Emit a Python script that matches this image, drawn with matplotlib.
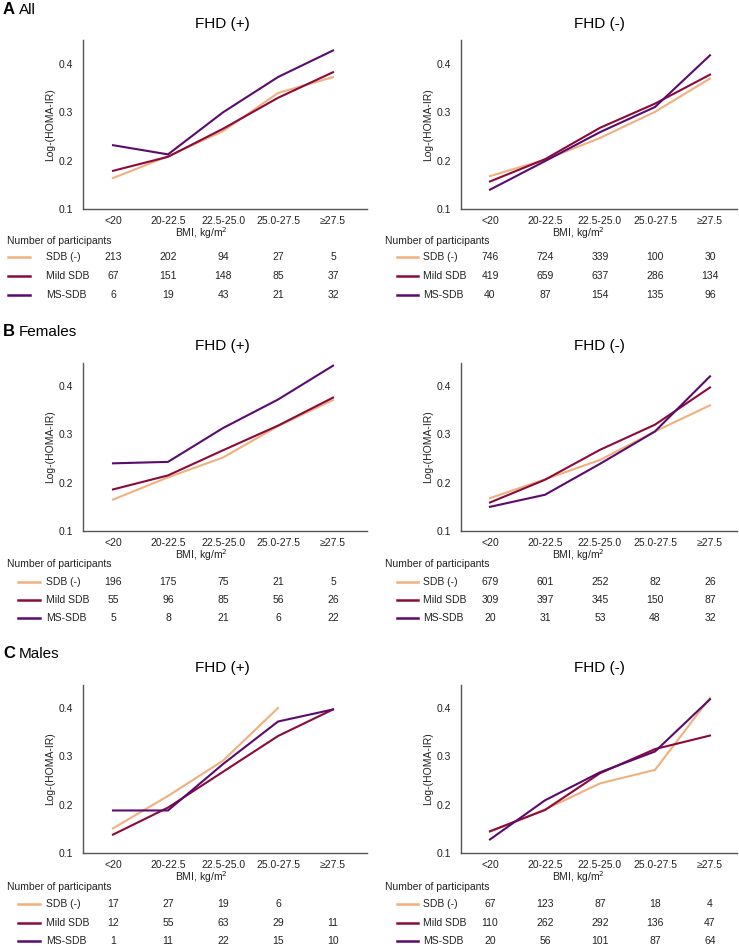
import numpy as np
import matplotlib
matplotlib.use("Agg")
import matplotlib.pyplot as plt
from matplotlib.transforms import blended_transform_factory

plt.rcParams['font.family'] = ['Liberation Sans', 'DejaVu Sans']

categories = ["<20", "20-22.5", "22.5-25.0", "25.0-27.5", "\u226527.5"]
series_names = ["SDB (-)", "Mild SDB", "MS-SDB"]
colors = ["#F0B07E", "#8B0A3A", "#5A0B6E"]

# Log-(HOMA-IR) values
all_fhd_pos = {
    "SDB (-)": [0.164, 0.209, 0.261, 0.340, 0.373],
    "Mild SDB": [0.179, 0.208, 0.266, 0.330, 0.383],
    "MS-SDB": [0.232, 0.213, 0.300, 0.373, 0.428],
}
all_fhd_neg = {
    "SDB (-)": [0.168, 0.202, 0.247, 0.301, 0.370],
    "Mild SDB": [0.157, 0.203, 0.268, 0.318, 0.378],
    "MS-SDB": [0.140, 0.199, 0.259, 0.311, 0.418],
}
fem_fhd_pos = {
    "SDB (-)": [0.165, 0.211, 0.252, 0.317, 0.371],
    "Mild SDB": [0.186, 0.215, 0.267, 0.318, 0.376],
    "MS-SDB": [0.240, 0.243, 0.313, 0.372, 0.442],
}
fem_fhd_neg = {
    "SDB (-)": [0.168, 0.207, 0.247, 0.306, 0.360],
    "Mild SDB": [0.159, 0.206, 0.268, 0.320, 0.397],
    "MS-SDB": [0.150, 0.175, 0.239, 0.306, 0.420],
}
male_fhd_pos = {
    "SDB (-)": [0.151, 0.218, 0.291, 0.400, np.nan],
    "Mild SDB": [0.138, 0.194, 0.268, 0.342, 0.397],
    "MS-SDB": [0.188, 0.188, 0.284, 0.372, 0.397],
}
male_fhd_neg = {
    "SDB (-)": [0.144, 0.190, 0.244, 0.272, 0.421],
    "Mild SDB": [0.145, 0.189, 0.265, 0.315, 0.343],
    "MS-SDB": [0.128, 0.209, 0.267, 0.310, 0.418],
}

# Number of participants
n_all_pos = {"SDB (-)": [213, 202, 94, 27, 5], "Mild SDB": [67, 151, 148, 85, 37], "MS-SDB": [6, 19, 43, 21, 32]}
n_all_neg = {"SDB (-)": [746, 724, 339, 100, 30], "Mild SDB": [419, 659, 637, 286, 134], "MS-SDB": [40, 87, 154, 135, 96]}
n_fem_pos = {"SDB (-)": [196, 175, 75, 21, 5], "Mild SDB": [55, 96, 85, 56, 26], "MS-SDB": [5, 8, 21, 6, 22]}
n_fem_neg = {"SDB (-)": [679, 601, 252, 82, 26], "Mild SDB": [309, 397, 345, 150, 87], "MS-SDB": [20, 31, 53, 48, 32]}
n_male_pos = {"SDB (-)": [17, 27, 19, 6, None], "Mild SDB": [12, 55, 63, 29, 11], "MS-SDB": [1, 11, 22, 15, 10]}
n_male_neg = {"SDB (-)": [67, 123, 87, 18, 4], "Mild SDB": [110, 262, 292, 136, 47], "MS-SDB": [20, 56, 101, 87, 64]}

W, H = 739, 946
fig = plt.figure(figsize=(W / 100, H / 100), dpi=100)


def fx(px):
    return px / W


def fy(py):
    return 1 - py / H


rows = [
    dict(letter="A", name="All", letter_y=10, top=40, bottom=209, title_y=24,
         xlab_y=233.5, num_y=241, row_ys=[257, 276, 295],
         data=[all_fhd_pos, all_fhd_neg], counts=[n_all_pos, n_all_neg], leg_left=(8, 30)),
    dict(letter="B", name="Females", letter_y=332, top=363, bottom=531, title_y=346,
         xlab_y=555.5, num_y=564, row_ys=[582, 600, 618],
         data=[fem_fhd_pos, fem_fhd_neg], counts=[n_fem_pos, n_fem_neg], leg_left=(18, 40)),
    dict(letter="C", name="Males", letter_y=654, top=685, bottom=853, title_y=668,
         xlab_y=877.5, num_y=887, row_ys=[904, 923, 941],
         data=[male_fhd_pos, male_fhd_neg], counts=[n_male_pos, n_male_neg], leg_left=(18, 40)),
]

cols = [
    dict(title="FHD (+)", left=83, right=367, cat0=113, xlab_x=201, ylab_x=50,
         title_x=222, num_x=7, label_x=46),
    dict(title="FHD (-)", left=461, right=737, cat0=490, xlab_x=578, ylab_x=428,
         title_x=599, num_x=385, label_x=423, leg=(397, 418)),
]
spacing = 55.0
x = np.arange(len(categories))

for r in rows:
    fig.text(fx(3), fy(r["letter_y"]), r["letter"], fontsize=12, fontweight="bold",
             va="center", ha="left")
    fig.text(fx(19), fy(r["letter_y"]), r["name"], fontsize=11, va="center", ha="left")
    for ci, c in enumerate(cols):
        ax = fig.add_axes([fx(c["left"]), fy(r["bottom"]), fx(c["right"] - c["left"]),
                           (r["bottom"] - r["top"]) / H])
        data = r["data"][ci]
        for name, col in zip(series_names, colors):
            ax.plot(x, data[name], color=col, lw=1.5, solid_joinstyle="miter")
        ax.set_ylim(0.1, 0.1 + (r["bottom"] - r["top"]) / 145 * 0.3)
        ax.set_xlim((c["left"] - c["cat0"]) / spacing, (c["right"] - c["cat0"]) / spacing)
        ax.set_yticks([0.1, 0.2, 0.3, 0.4])
        ax.set_yticklabels(["0.1", "0.2", "0.3", "0.4"])
        ax.set_xticks(x)
        ax.set_xticklabels(categories)
        ax.tick_params(length=0, labelsize=7.5, colors="#222222")
        ax.tick_params(axis="x", pad=5)
        ax.tick_params(axis="y", pad=7)
        for s in ["top", "right"]:
            ax.spines[s].set_visible(False)
        for s in ["left", "bottom"]:
            ax.spines[s].set_color("#555555")
            ax.spines[s].set_linewidth(1.0)
        fig.text(fx(c["title_x"]), fy(r["title_y"]), c["title"], fontsize=11,
                 ha="center", va="center")
        fig.text(fx(c["ylab_x"]), fy((r["top"] + r["bottom"]) / 2), "Log-(HOMA-IR)",
                 rotation=90, fontsize=7.5, ha="center", va="center", color="#222222")
        fig.text(fx(c["xlab_x"]), fy(r["xlab_y"]), "BMI, kg/m$^2$", fontsize=7.5,
                 ha="center", va="center", color="#222222")
        fig.text(fx(c["num_x"]), fy(r["num_y"]), "Number of participants", fontsize=7.5,
                 ha="left", va="center", color="#222222")
        trans = blended_transform_factory(ax.transData, fig.transFigure)
        counts = r["counts"][ci]
        if ci == 0:
            l0, l1 = r["leg_left"]
        else:
            l0, l1 = c["leg"]
        lab_x = c["label_x"]
        for name, col, yy in zip(series_names, colors, r["row_ys"]):
            fig.add_artist(plt.Line2D([fx(l0), fx(l1)], [fy(yy), fy(yy)], color=col,
                                      lw=1.8, transform=fig.transFigure))
            fig.text(fx(lab_x), fy(yy), name, fontsize=7.5, ha="left", va="center",
                     color="#222222")
            for xi, v in zip(x, counts[name]):
                if v is None:
                    continue
                ax.text(xi, fy(yy), str(v), transform=trans, fontsize=7.5,
                        ha="center", va="center", color="#222222", clip_on=False)

fig.savefig("out.png", dpi=100)
